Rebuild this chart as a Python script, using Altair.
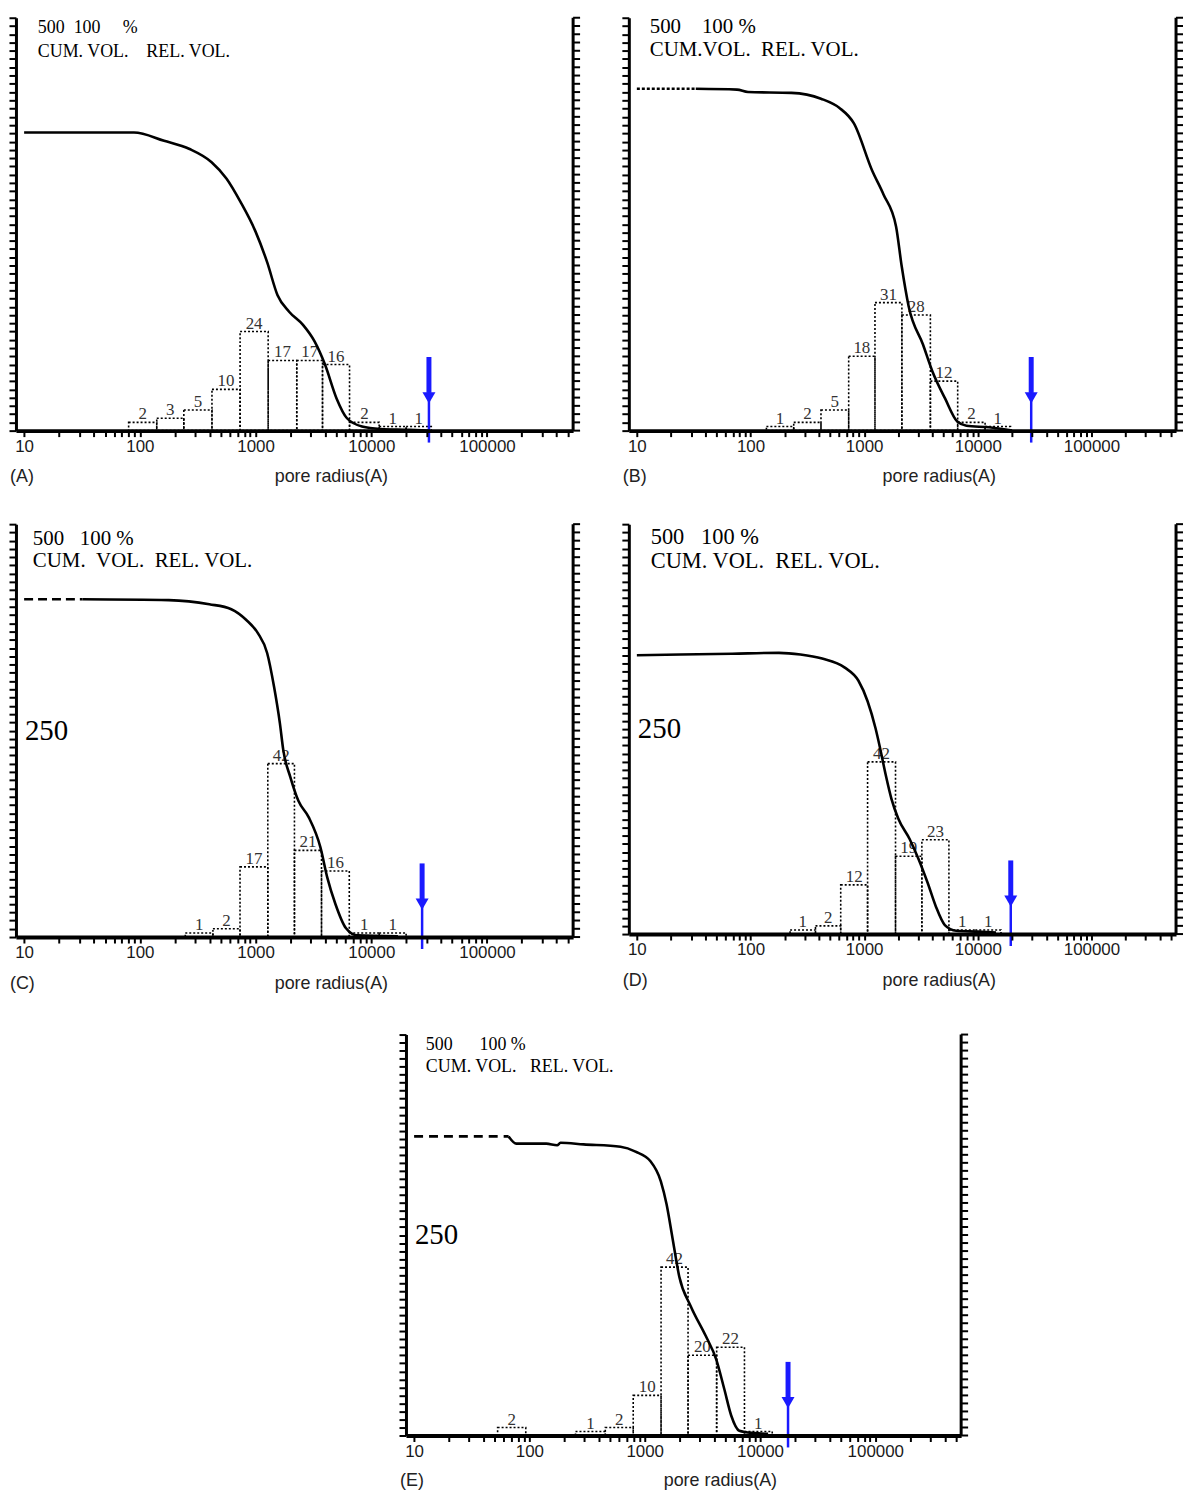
import altair as alt
import pandas as pd

# ---------------- data ----------------
# cumulative volume curves: pore radius (A) vs cumulative volume (0-500 scale)
A_curve_r = [10, 89, 162, 269, 417, 562, 741, 1000, 1259, 1549, 1950, 2570, 3236, 3981, 5012, 6166, 8318, 12000, 21380, 30900]
A_curve_v = [361, 361, 351, 341, 325, 305, 277, 241, 204, 164, 144, 128, 108, 80, 39, 15, 5, 2, 1, 0]
A_lead_r = []
A_lead_v = []

B_curve_r = [33, 76, 95, 229, 417, 603, 813, 1175, 1480, 1910, 2140, 2460, 3300, 3980, 5150, 6600, 7940, 12600, 18200, 20000]
B_curve_v = [414, 413, 410, 409, 402, 391, 372, 315, 286, 247, 199, 151, 104, 72, 39, 11, 6, 4, 1, 0]
B_lead_r = [10, 33]
B_lead_v = [414, 414]

C_curve_r = [32, 178, 398, 617, 832, 1047, 1259, 1445, 1622, 1738, 1995, 2344, 2884, 3631, 4169, 4898, 6026, 7586, 17000]
C_curve_v = [409, 408, 403, 397, 384, 368, 344, 303, 259, 226, 194, 165, 145, 109, 72, 40, 11, 2, 1]
C_lead_r = [10, 32]
C_lead_v = [409, 409]

D_curve_r = [10, 69, 178, 275, 427, 676, 891, 1072, 1259, 1380, 1549, 1738, 1995, 2512, 3020, 3631, 4266, 5129, 6457, 10000, 14454]
D_curve_v = [340, 342, 343, 341, 336, 325, 309, 284, 251, 227, 194, 165, 141, 116, 91, 62, 34, 11, 4, 3, 2]
D_lead_r = []
D_lead_v = []

E_curve_r = [66, 77, 140, 174, 186, 295, 617, 832, 1122, 1380, 1549, 1738, 1995, 2512, 3388, 4169, 4898, 5623, 6607, 8913, 11749]
E_curve_v = [373, 364, 364, 362, 365, 363, 360, 354, 342, 317, 288, 247, 198, 161, 124, 95, 58, 25, 6, 3, 2]
E_lead_r = [10, 66]
E_lead_v = [373, 373]

# relative volume histograms (% of full height)
A_bin_lo = [80, 140, 240, 420, 735, 1285, 2270, 3790, 6490, 11700, 20000]
A_bin_hi = [140, 240, 420, 735, 1285, 2270, 3790, 6490, 11700, 20000, 33000]
A_bin_pct = [2, 3, 5, 10, 24, 17, 17, 16, 2, 1, 1]

B_bin_lo = [138, 240, 417, 731, 1245, 2148, 3826, 6653, 11590]
B_bin_hi = [240, 417, 731, 1245, 2148, 3826, 6653, 11590, 19400]
B_bin_pct = [1, 2, 5, 18, 31, 28, 12, 2, 1]

C_bin_lo = [247, 428, 734, 1276, 2168, 3715, 6457, 11700]
C_bin_hi = [428, 734, 1276, 2168, 3715, 6457, 11700, 20000]
C_bin_pct = [1, 2, 17, 42, 21, 16, 1, 1]

D_bin_lo = [223, 373, 622, 1072, 1888, 3220, 5570, 9500]
D_bin_hi = [373, 622, 1072, 1888, 3220, 5570, 9500, 16000]
D_bin_pct = [1, 2, 12, 42, 19, 23, 1, 1]

E_bin_lo = [53, 251, 455, 795, 1386, 2376, 4207, 7330]
E_bin_hi = [93, 455, 795, 1386, 2376, 4207, 7330, 12760]
E_bin_pct = [2, 1, 2, 10, 42, 20, 22, 1]

# blue arrow positions (pore radius, A)
arrow_r = {"A": 31500, "B": 29500, "C": 27500, "D": 19500, "E": 17500}

# text
NB = "\u00a0"
head_line1 = {"A": "500" + NB * 2 + "100" + NB * 5 + "%",
              "B": "500" + NB * 4 + "100 %",
              "C": "500" + NB * 3 + "100 %",
              "D": "500" + NB * 3 + "100 %",
              "E": "500" + NB * 6 + "100 %"}
head_line2 = {"A": "CUM. VOL." + NB * 4 + "REL. VOL.",
              "B": "CUM.VOL." + NB * 2 + "REL. VOL.",
              "C": "CUM." + NB * 2 + "VOL." + NB * 2 + "REL. VOL.",
              "D": "CUM. VOL." + NB * 2 + "REL. VOL.",
              "E": "CUM. VOL." + NB * 3 + "REL. VOL."}
mid_label = {"A": "", "B": "", "C": "250", "D": "250", "E": "250"}
x_tick_labels = ["10", "100", "1000", "10000", "100000"]
x_title = "pore radius(A)"

DATA = {
    "A": (A_curve_r, A_curve_v, A_lead_r, A_lead_v, A_bin_lo, A_bin_hi, A_bin_pct),
    "B": (B_curve_r, B_curve_v, B_lead_r, B_lead_v, B_bin_lo, B_bin_hi, B_bin_pct),
    "C": (C_curve_r, C_curve_v, C_lead_r, C_lead_v, C_bin_lo, C_bin_hi, C_bin_pct),
    "D": (D_curve_r, D_curve_v, D_lead_r, D_lead_v, D_bin_lo, D_bin_hi, D_bin_pct),
    "E": (E_curve_r, E_curve_v, E_lead_r, E_lead_v, E_bin_lo, E_bin_hi, E_bin_pct),
}

# ---------------- styling ----------------
SERIF = "Liberation Serif"
SANS = "Liberation Sans"
BLUE = "#1a1aff"
X_DOMAIN = [8.5, 555000]
X_TICKS = [m * 10 ** k for k in range(1, 6) for m in range(1, 10) if m * 10 ** k <= 550000]
Y_TICKS = list(range(0, 501, 10))
LEAD_DASH = {"B": [3, 2], "C": [9, 5], "E": [9, 6]}
HEAD_STYLE = {  # x offset, y offset of line1, font size, line height
    "A": (22, 10, 18, 24), "B": (21, 9, 21, 23), "C": (17, 15, 21, 22), "D": (22, 13, 22.5, 24),
    "E": (20, 11, 18, 22)}
TEXT_DY = {"A": 47, "B": 47, "C": 47, "D": 47, "E": 46}

X_AXIS = alt.Axis(
    values=X_TICKS, format="d",
    labelExpr="indexof(" + str(x_tick_labels) + ", datum.label) >= 0 ? datum.label : ''",
    labelOverlap=False, labelFlush=False, labelFont=SANS, labelFontSize=17, labelColor="#1a1a1a",
    labelPadding=2, tickSize=6, tickWidth=2, tickColor="black", domainWidth=4,
    domainColor="black", grid=False, title=None, zindex=1)
Y_AXIS = alt.Axis(orient="left", values=Y_TICKS, labels=False, tickSize=7, tickWidth=2,
                  tickColor="black", domainWidth=3, domainColor="black", grid=False,
                  title=None, zindex=1)


def make_panel(key, width, height):
    curve_r, curve_v, lead_r, lead_v, lo, hi, pct = DATA[key]
    xs = alt.Scale(type="log", domain=X_DOMAIN, nice=False)
    ys = alt.Scale(domain=[0, 500], nice=False, zero=True)

    def X(f):
        return alt.X(f, scale=xs, axis=X_AXIS)

    def Y(f):
        return alt.Y(f, scale=ys, axis=Y_AXIS)

    bars = pd.DataFrame({"lo": lo, "hi": hi, "pct": pct})
    bars["h"] = bars["pct"] * 5
    bars["mid"] = (bars["lo"] * bars["hi"]) ** 0.5
    bars["z"] = 0
    curve = pd.DataFrame({"r": curve_r, "v": curve_v})
    arrow = pd.DataFrame({"r": [arrow_r[key]]})
    one = pd.DataFrame({"k": [0]})
    yt = pd.DataFrame({"t": Y_TICKS})

    layers = []
    layers.append(
        alt.Chart(bars).mark_rect(fillOpacity=0, stroke="black", strokeWidth=1.6, strokeDash=[2, 2])
        .encode(x=X("lo:Q"), x2="hi:Q", y=Y("h:Q"), y2="z:Q"))
    layers.append(
        alt.Chart(bars).mark_text(font=SERIF, fontSize=17, color="#333", baseline="bottom", dy=1)
        .encode(x=X("mid:Q"), y=Y("h:Q"), text="pct:Q"))
    layers.append(
        alt.Chart(curve).mark_line(color="black", strokeWidth=2.6, interpolate="monotone")
        .encode(x=X("r:Q"), y=Y("v:Q")))
    if lead_r:
        lead = pd.DataFrame({"r": lead_r, "v": lead_v})
        layers.append(
            alt.Chart(lead).mark_line(color="black", strokeWidth=2.6, strokeDash=LEAD_DASH[key])
            .encode(x=X("r:Q"), y=Y("v:Q")))
    # right-hand frame with tick band
    layers.append(
        alt.Chart(one).mark_rule(color="black", strokeWidth=3)
        .encode(x=alt.value(width), y=alt.value(0), y2=alt.value(height)))
    layers.append(
        alt.Chart(yt).mark_rule(color="black", strokeWidth=2)
        .encode(x=alt.value(width), x2=alt.value(width + 7), y=Y("t:Q")))
    # blue arrow
    layers.append(
        alt.Chart(arrow).mark_rule(color=BLUE, strokeWidth=5)
        .encode(x=X("r:Q"), y=alt.value(height - 74), y2=alt.value(height - 38)))
    layers.append(
        alt.Chart(arrow).mark_rule(color=BLUE, strokeWidth=2.5)
        .encode(x=X("r:Q"), y=alt.value(height - 40), y2=alt.value(height + 12)))
    layers.append(
        alt.Chart(arrow).mark_point(shape="triangle-down", filled=True, color=BLUE, size=170, opacity=1)
        .encode(x=X("r:Q"), y=alt.value(height - 33)))
    # header texts
    hx, hy, hs, lh = HEAD_STYLE[key]
    layers.append(
        alt.Chart(one).mark_text(font=SERIF, fontSize=hs, color="black", align="left", baseline="middle",
                                 lineHeight=lh)
        .encode(x=alt.value(hx), y=alt.value(hy), text=alt.value([head_line1[key], head_line2[key]])))
    if mid_label[key]:
        layers.append(
            alt.Chart(one).mark_text(font=SERIF, fontSize=29, color="black", align="left", baseline="middle")
            .encode(x=alt.value(9), y=alt.value(height / 2), text=alt.value(mid_label[key])))
    # panel letter and axis title
    dy = TEXT_DY[key]
    layers.append(
        alt.Chart(one).mark_text(font=SANS, fontSize=18, color="#222", align="left", baseline="middle")
        .encode(x=alt.value(-6), y=alt.value(height + dy), text=alt.value("(" + key + ")")))
    layers.append(
        alt.Chart(one).mark_text(font=SANS, fontSize=18, color="#222", align="center", baseline="middle")
        .encode(x=alt.value(width / 2 + 37), y=alt.value(height + dy), text=alt.value(x_title)))

    return alt.layer(*layers).properties(width=width, height=height)


pA = make_panel("A", 560, 415)
pB = make_panel("B", 550, 415)
pC = make_panel("C", 560, 415)
pD = make_panel("D", 550, 412)
pE = make_panel("E", 558, 403)

spacer = alt.Chart(pd.DataFrame({"k": [0]})).mark_point(opacity=0).properties(width=384, height=10)

row1 = alt.hconcat(pA, pB, spacing=40)
row2 = alt.hconcat(pC, pD, spacing=40)
row3 = alt.hconcat(spacer, pE, spacing=0)

chart = (
    alt.vconcat(row1, alt.vconcat(row2, row3, spacing=40), spacing=36)
    .properties(padding={"left": 0, "top": 4, "right": 0, "bottom": 0}, background="white")
    .configure_view(stroke=None)
)

chart.save("out.html", embed_options={"renderer": "svg", "actions": False})
